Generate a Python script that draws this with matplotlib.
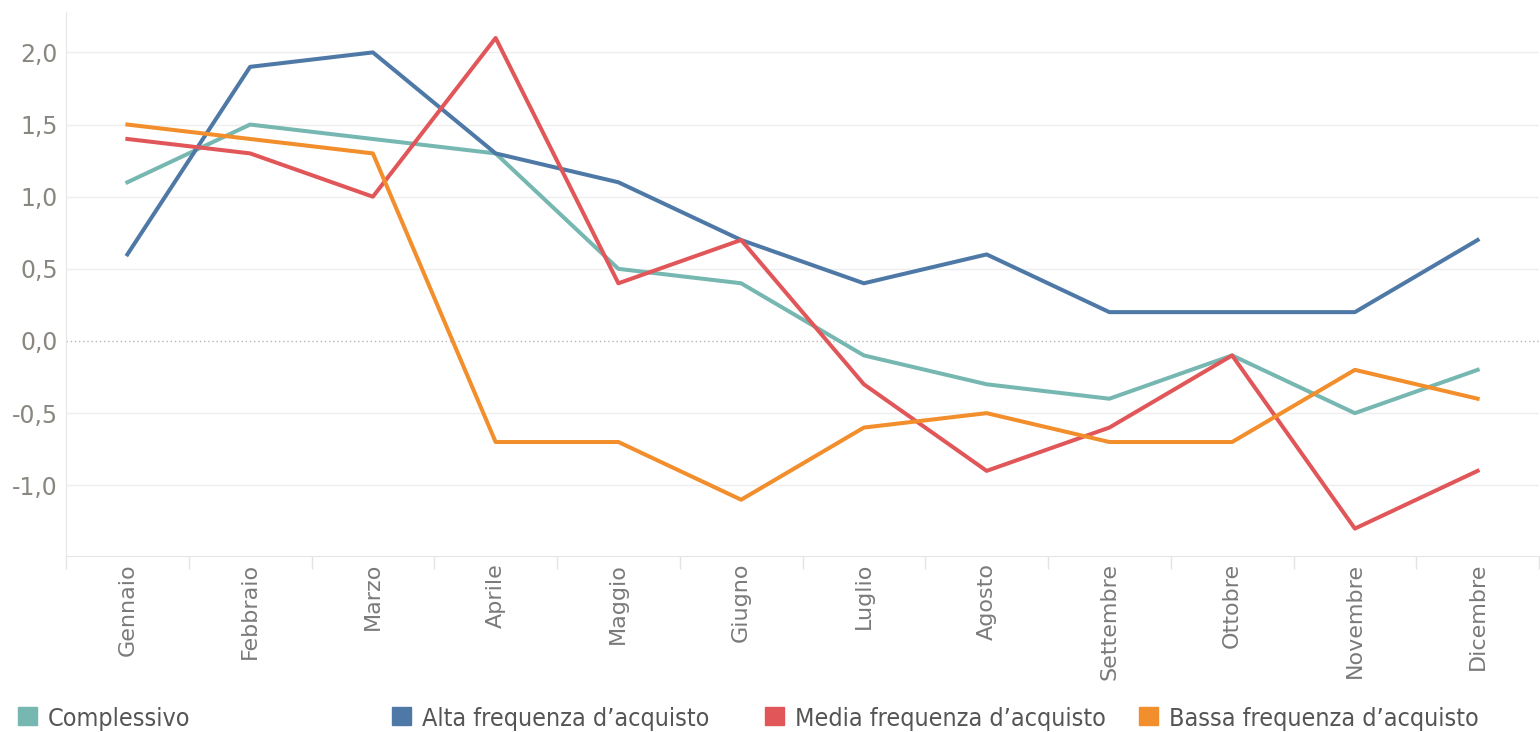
import matplotlib
matplotlib.use('Agg')
import matplotlib.pyplot as plt
from matplotlib.patches import Rectangle
from matplotlib.ticker import FuncFormatter, FixedLocator
import numpy as np

months = ["Gennaio", "Febbraio", "Marzo", "Aprile", "Maggio", "Giugno",
          "Luglio", "Agosto", "Settembre", "Ottobre", "Novembre", "Dicembre"]

complessivo = [1.1, 1.5, 1.4, 1.3, 0.5, 0.4, -0.1, -0.3, -0.4, -0.1, -0.5, -0.2]
alta = [0.6, 1.9, 2.0, 1.3, 1.1, 0.7, 0.4, 0.6, 0.2, 0.2, 0.2, 0.7]
media = [1.4, 1.3, 1.0, 2.1, 0.4, 0.7, -0.3, -0.9, -0.6, -0.1, -1.3, -0.9]
bassa = [1.5, 1.4, 1.3, -0.7, -0.7, -1.1, -0.6, -0.5, -0.7, -0.7, -0.2, -0.4]

series_names = ["Complessivo", "Alta frequenza d\u2019acquisto",
                "Media frequenza d\u2019acquisto", "Bassa frequenza d\u2019acquisto"]
series_values = [complessivo, alta, media, bassa]
colors = ["#76B7B2", "#4E79A7", "#E15759", "#F28E2B"]

W, H = 1540, 732
fig = plt.figure(figsize=(W / 100, H / 100), dpi=100)
ax = fig.add_axes([66 / W, 1 - 556 / H, (1539 - 66) / W, (556 - 12) / H])

x = np.arange(len(months))
for name, vals, col in zip(series_names, series_values, colors):
    ax.plot(x, vals, color=col, lw=2.9, zorder=3)

ax.set_xlim(-0.5, len(months) - 0.5)
ax.set_ylim(-1.49, 2.28)

# griglia orizzontale, linea dello zero tratteggiata
yticks = [-1.0, -0.5, 0.0, 0.5, 1.0, 1.5, 2.0]
ax.set_yticks(yticks)
ax.yaxis.set_major_formatter(FuncFormatter(lambda v, p: f"{v:.1f}".replace(".", ",")))
for v in yticks:
    if v == 0:
        ax.axhline(0, color="#b5b5b5", lw=1.0, ls=(0, (1, 2)), zorder=1)
    else:
        ax.axhline(v, color="#eeeeee", lw=1.0, zorder=1)

ax.tick_params(axis='y', length=0, pad=6, labelsize=17, labelcolor="#8a8680")

# asse x: etichette al centro, tacche ai bordi delle categorie
ax.set_xticks(x)
ax.set_xticklabels(months, rotation=90, va='top', ha='center')
ax.tick_params(axis='x', which='major', length=0, pad=5, labelsize=16, labelcolor="#7a7a7a")
ax.xaxis.set_minor_locator(FixedLocator(np.arange(-0.5, len(months), 1.0)))
ax.tick_params(axis='x', which='minor', length=9, width=1, color="#e4e4e4")

for s in ["top", "right"]:
    ax.spines[s].set_visible(False)
ax.spines["left"].set_color("#e6e6e6")
ax.spines["bottom"].set_color("#e6e6e6")

# legenda in basso
leg_x = [18, 392, 765, 1139]
for lx, name, col in zip(leg_x, series_names, colors):
    fig.patches.append(Rectangle((lx / W, 1 - 725 / H), 19 / W, 18 / H,
                                 transform=fig.transFigure, color=col, figure=fig))
    fig.text((lx + 30) / W, 1 - 726 / H, name, fontsize=18, color="#555555",
             va='baseline', ha='left', family='DejaVu Sans', fontstretch='condensed')

fig.savefig("out.png", dpi=100)
